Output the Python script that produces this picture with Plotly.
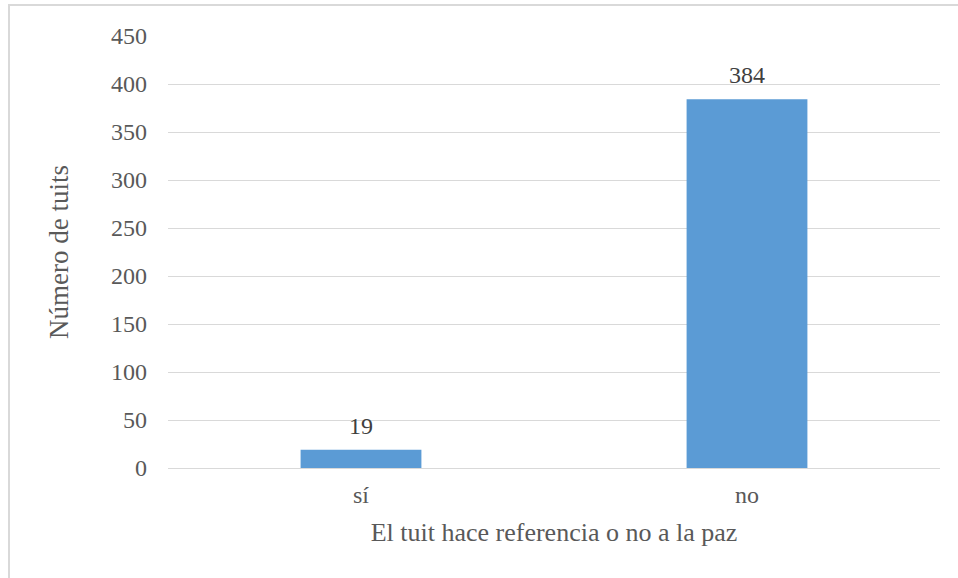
import plotly.graph_objects as go

# Tweets that do / do not refer to peace
categorias = ["sí", "no"]
tuits = [19, 384]
ticks_y = [0, 50, 100, 150, 200, 250, 300, 350, 400, 450]

GRIS_TEXTO = "#595959"
GRIS_LINEA = "#D9D9D9"
AZUL = "#5B9BD5"
FUENTE = "Liberation Serif, Times New Roman, serif"

fig = go.Figure(
    go.Bar(
        x=categorias,
        y=tuits,
        marker=dict(color=AZUL, line=dict(width=0)),
        width=0.313,
        hoverinfo="skip",
    )
)

# Value labels above each bar
for cat, val in zip(categorias, tuits):
    fig.add_annotation(
        x=cat, y=val, text=str(val),
        showarrow=False, yanchor="bottom", yshift=9,
        font=dict(family=FUENTE, size=24, color="#404040"),
    )

L, R, T, B = 168, 18, 36, 110
W, H = 958, 578

fig.update_layout(
    width=W,
    height=H,
    margin=dict(l=L, r=R, t=T, b=B, pad=0),
    paper_bgcolor="white",
    plot_bgcolor="white",
    showlegend=False,
    font=dict(family=FUENTE, size=24, color=GRIS_TEXTO),
    xaxis=dict(
        title=dict(text="El tuit hace referencia o no a la paz",
                   font=dict(size=26, color=GRIS_TEXTO), standoff=15),
        showgrid=False,
        showline=False,
        zeroline=False,
        ticks="",
        tickfont=dict(size=24, color=GRIS_TEXTO),
        ticklabelstandoff=10,
    ),
    yaxis=dict(
        title=dict(text="Número de tuits",
                   font=dict(size=27, color=GRIS_TEXTO), standoff=34),
        range=[0, 450],
        tickvals=ticks_y,
        ticktext=[str(v) for v in ticks_y],
        showgrid=True,
        gridcolor=GRIS_LINEA,
        gridwidth=1.3,
        zeroline=True,
        zerolinecolor=GRIS_LINEA,
        zerolinewidth=1.3,
        showline=False,
        ticks="",
        tickfont=dict(size=24, color=GRIS_TEXTO),
        ticklabelstandoff=20,
    ),
)

# Chart-area frame (top and left edges fall inside the page)
pw = W - L - R
ph = H - T - B
fig.add_shape(
    type="rect",
    xref="paper", yref="paper",
    x0=(9 - L) / pw, x1=(W + 20 - L) / pw,
    y0=(H - B - (H + 20)) / ph, y1=(H - B - 5) / ph,
    line=dict(color=GRIS_LINEA, width=2),
    fillcolor="rgba(0,0,0,0)",
    layer="below",
)

fig.write_html("out.html")
